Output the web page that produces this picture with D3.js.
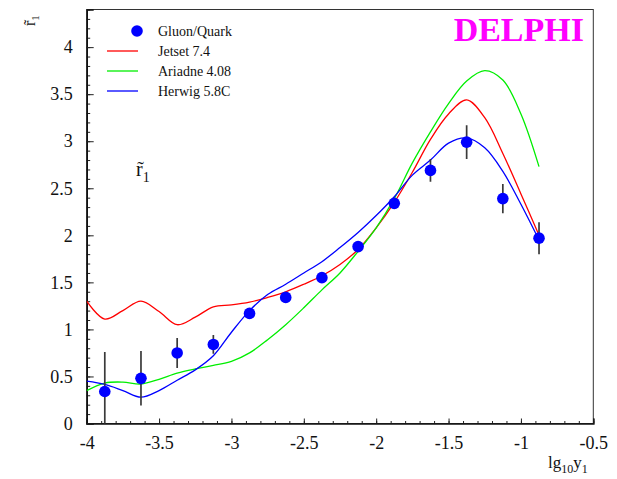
<!DOCTYPE html>
<html>
<head>
<meta charset="utf-8">
<script src="https://cdn.jsdelivr.net/npm/d3@7"></script>
<style>
  html, body { margin: 0; padding: 0; background: #fff; }
  svg { display: block; font-family: "Liberation Serif", "Times New Roman", serif; }
</style>
</head>
<body>
<svg id="chart" width="617" height="479"></svg>
<script>
// Measured ratio r~1 versus lg10(y1), gluon/quark, with model predictions
const binCentres = [-3.875, -3.625, -3.375, -3.125, -2.875, -2.625, -2.375, -2.125, -1.875, -1.625, -1.375, -1.125, -0.875];
const gluonQuark = [0.34, 0.48, 0.75, 0.84, 1.17, 1.34, 1.55, 1.88, 2.34, 2.69, 2.99, 2.39, 1.97];
const gluonQuarkErr = [0.42, 0.29, 0.16, 0.10, 0.05, 0.04, 0.04, 0.04, 0.06, 0.12, 0.18, 0.155, 0.17];

// Model curves sampled on a common grid
const modelX = [-4, -3.875, -3.75, -3.625, -3.5, -3.375, -3.25, -3.125, -3, -2.875, -2.75, -2.625, -2.5,
                -2.375, -2.25, -2.125, -2, -1.875, -1.75, -1.625, -1.5, -1.375, -1.25, -1.125, -1, -0.875];
const jetset = [1.30, 1.11, 1.20, 1.30, 1.19, 1.05, 1.13, 1.24, 1.26, 1.29, 1.34, 1.40, 1.48,
                1.57, 1.69, 1.85, 2.08, 2.35, 2.67, 3.02, 3.29, 3.44, 3.25, 2.87, 2.44, 2.00];
const ariadne = [0.35, 0.43, 0.44, 0.42, 0.47, 0.535, 0.58, 0.617, 0.66, 0.75, 0.89, 1.05, 1.23,
                 1.42, 1.60, 1.83, 2.08, 2.39, 2.77, 3.10, 3.40, 3.64, 3.75, 3.65, 3.29, 2.73];
const herwig = [0.45, 0.415, 0.35, 0.28, 0.35, 0.46, 0.57, 0.72, 0.97, 1.20, 1.37, 1.48, 1.60,
                1.72, 1.87, 2.03, 2.21, 2.41, 2.64, 2.80, 2.98, 3.035, 2.93, 2.68, 2.33, 1.95];

const seriesNames = ["Gluon/Quark", "Jetset 7.4", "Ariadne 4.08", "Herwig 5.8C"];
const seriesColors = ["#0000ff", "#ff0000", "#00ee00", "#0000ff"];

const xTicks = [-4, -3.5, -3, -2.5, -2, -1.5, -1, -0.5];
const yTicks = [0, 0.5, 1, 1.5, 2, 2.5, 3, 3.5, 4];

const svg = d3.select("#chart");
const L = 86.7, R = 593.3, T = 9.5, B = 423.5;

const x = d3.scaleLinear().domain([-4, -0.5]).range([L, R]);
const y = d3.scaleLinear().domain([0, 4.4]).range([B, T]);

const fmt = d => String(d).replace("\u2212", "-");

// frame (top and right)
svg.append("rect")
  .attr("x", L).attr("y", T).attr("width", R - L).attr("height", B - T)
  .attr("fill", "none").attr("stroke", "#333").attr("stroke-width", 1);

// clip region for plotted marks
svg.append("clipPath").attr("id", "plotArea")
  .append("rect").attr("x", L).attr("y", T).attr("width", R - L).attr("height", B - T);

// minor ticks
const xMinor = d3.range(-4, -0.5 + 1e-9, 0.1);
const yMinor = d3.range(0, 4.4 + 1e-9, 0.1);
svg.append("g").attr("transform", `translate(0,${B})`)
  .call(d3.axisBottom(x).tickValues(xMinor).tickSize(-2.5).tickFormat(""))
  .call(g => g.select(".domain").remove())
  .call(g => g.selectAll("line").attr("stroke", "#222"));
svg.append("g").attr("transform", `translate(${L},0)`)
  .call(d3.axisLeft(y).tickValues(yMinor).tickSize(-3.5).tickFormat(""))
  .call(g => g.select(".domain").remove())
  .call(g => g.selectAll("line").attr("stroke", "#222"));

// major ticks + labels
const xAxis = svg.append("g").attr("transform", `translate(0,${B})`)
  .call(d3.axisBottom(x).tickValues(xTicks).tickSize(-5).tickPadding(13).tickFormat(fmt));
xAxis.select(".domain").attr("stroke", "#111").attr("stroke-width", 1.6);
xAxis.selectAll("line").attr("stroke", "#222");
xAxis.selectAll("text").attr("font-size", 18).attr("fill", "#111")
  .attr("font-family", "Liberation Serif").attr("dy", "0.71em");

const yAxis = svg.append("g").attr("transform", `translate(${L},0)`)
  .call(d3.axisLeft(y).tickValues(yTicks).tickSize(-7).tickPadding(14).tickFormat(fmt));
yAxis.select(".domain").attr("stroke", "#111").attr("stroke-width", 1.6);
yAxis.selectAll("line").attr("stroke", "#222");
yAxis.selectAll("text").attr("font-size", 18).attr("fill", "#111")
  .attr("font-family", "Liberation Serif");

const plot = svg.append("g").attr("clip-path", "url(#plotArea)");

// model curves
const line = d3.line()
  .x((d, i) => x(modelX[i]))
  .y(d => y(d))
  .curve(d3.curveCatmullRom.alpha(0.5));
[jetset, ariadne, herwig].forEach((s, k) => {
  plot.append("path").datum(s)
    .attr("d", line)
    .attr("fill", "none")
    .attr("stroke", seriesColors[k + 1])
    .attr("stroke-width", 1.3);
});

// error bars
plot.selectAll("line.err").data(gluonQuark).enter().append("line")
  .attr("class", "err")
  .attr("x1", (d, i) => x(binCentres[i]))
  .attr("x2", (d, i) => x(binCentres[i]))
  .attr("y1", (d, i) => y(d - gluonQuarkErr[i]))
  .attr("y2", (d, i) => y(d + gluonQuarkErr[i]))
  .attr("stroke", "#3a3a3a").attr("stroke-width", 1.7);

// data points
plot.selectAll("circle.pt").data(gluonQuark).enter().append("circle")
  .attr("class", "pt")
  .attr("cx", (d, i) => x(binCentres[i]))
  .attr("cy", d => y(d))
  .attr("r", 5.8)
  .attr("fill", seriesColors[0]);

// legend
const legend = svg.append("g");
seriesNames.forEach((name, i) => {
  const ly = 31 + i * 20;
  if (i === 0) {
    legend.append("circle").attr("cx", 137).attr("cy", ly).attr("r", 5.8).attr("fill", seriesColors[0]);
  } else {
    legend.append("line").attr("x1", 107).attr("x2", 138).attr("y1", ly).attr("y2", ly)
      .attr("stroke", seriesColors[i]).attr("stroke-width", 1.3);
  }
  legend.append("text").attr("x", 158).attr("y", ly + 5)
    .attr("font-size", 14).attr("fill", "#111").text(name);
});

// experiment label
svg.append("text").attr("x", 584).attr("y", 41)
  .attr("text-anchor", "end").attr("font-size", 34).attr("font-weight", "bold")
  .attr("fill", "#ff00ff").text("DELPHI");

// y-axis title: r~1, rotated
const yt = svg.append("text").attr("transform", "translate(35,26) rotate(-90)")
  .attr("font-size", 16).attr("fill", "#111");
yt.append("tspan").text("r\u0303");
yt.append("tspan").attr("font-size", 11).attr("dy", 4).text("1");

// in-plot label r~1
const il = svg.append("text").attr("transform", "translate(136,176)")
  .attr("font-size", 20).attr("fill", "#111");
il.append("tspan").text("r\u0303");
il.append("tspan").attr("font-size", 14).attr("dy", 6).text("1");

// x-axis title lg10 y1
const xt = svg.append("text").attr("x", 548).attr("y", 468).attr("font-size", 17).attr("fill", "#111");
xt.append("tspan").text("lg");
xt.append("tspan").attr("font-size", 12).attr("dy", 5).text("10");
xt.append("tspan").attr("dy", -5).text("y");
xt.append("tspan").attr("font-size", 12).attr("dy", 5).text("1");
</script>
</body>
</html>
